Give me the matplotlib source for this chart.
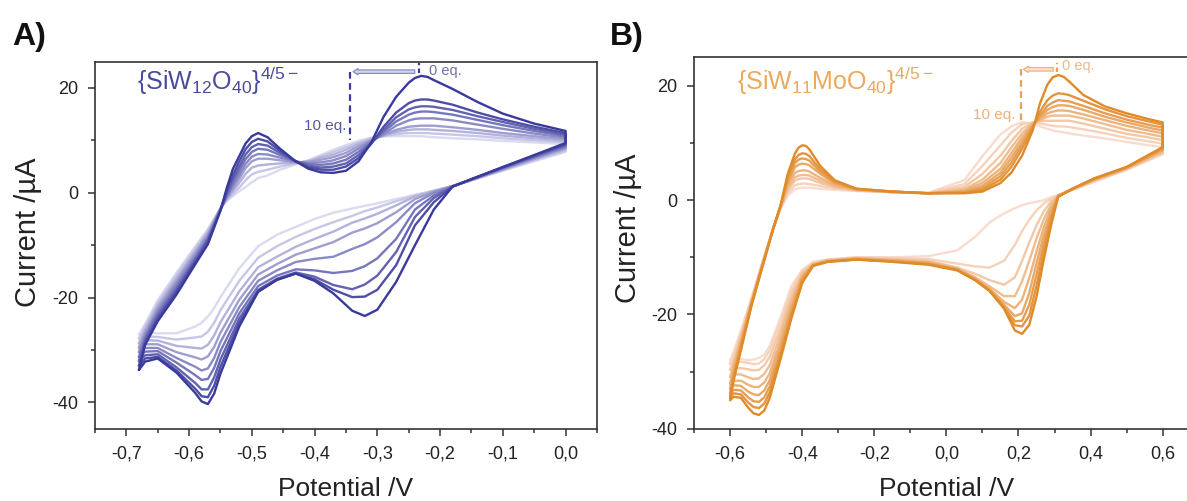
import matplotlib
matplotlib.use('Agg')
import matplotlib.pyplot as plt
import numpy as np
from matplotlib.ticker import MultipleLocator, FuncFormatter

plt.rcParams['font.family'] = ['Liberation Sans', 'DejaVu Sans']
plt.rcParams['mathtext.fontset'] = 'custom'
plt.rcParams['mathtext.rm'] = 'Liberation Sans'
plt.rcParams['mathtext.it'] = 'Liberation Sans:italic'
plt.rcParams['mathtext.bf'] = 'Liberation Sans:bold'
plt.rcParams['mathtext.default'] = 'regular'

# ---- panel A : {SiW12O40}, 0 eq. (row 0) ... 10 eq. (row 8) ----
pot_a_anodic = [-0.68, -0.67, -0.65, -0.62, -0.59, -0.57, -0.55, -0.54, -0.53, -0.52, -0.51,
                -0.50, -0.49, -0.475, -0.455, -0.43, -0.41, -0.39, -0.37, -0.35, -0.33, -0.31,
                -0.29, -0.27, -0.25, -0.24, -0.23, -0.22, -0.21, -0.18, -0.14, -0.10, -0.05, 0.00]
cur_a_anodic = [
    [-33.8, -29.0, -24.5, -19.4, -13.6, -9.8, -3.4, 0.9, 4.6, 7.0, 9.4, 10.8, 11.4, 10.6, 8.4, 6.0,
     4.6, 3.9, 3.8, 4.2, 6.0, 9.5, 14.5, 18.3, 21.0, 21.9, 22.3, 22.1, 21.5, 19.8, 17.3, 15.1, 13.2, 11.8],
    [-33.0, -28.6, -24.0, -18.9, -13.2, -9.4, -3.3, 0.3, 3.4, 6.0, 8.3, 9.7, 10.3, 9.8, 8.0, 6.0,
     4.9, 4.4, 4.4, 5.0, 6.6, 9.3, 12.6, 15.3, 17.1, 17.6, 17.8, 17.8, 17.6, 16.8, 15.3, 14.0, 12.6, 11.4],
    [-32.1, -28.1, -23.5, -18.4, -12.8, -9.0, -3.3, -0.2, 2.6, 5.0, 7.3, 8.7, 9.3, 9.0, 7.6, 6.0,
     5.2, 4.8, 5.0, 5.6, 7.2, 9.4, 12.0, 14.4, 15.9, 16.3, 16.5, 16.5, 16.4, 15.8, 14.6, 13.5, 12.2, 11.1],
    [-31.3, -27.6, -23.0, -17.9, -12.4, -8.7, -3.2, -0.5, 1.9, 4.2, 6.4, 7.8, 8.4, 8.2, 7.2, 6.0,
     5.5, 5.3, 5.6, 6.3, 7.8, 9.6, 11.6, 13.6, 14.9, 15.3, 15.5, 15.5, 15.4, 14.9, 13.9, 12.9, 11.8, 10.8],
    [-30.4, -27.1, -22.5, -17.3, -12.0, -8.3, -3.1, -0.8, 1.3, 3.4, 5.5, 6.9, 7.4, 7.3, 6.7, 5.9,
     5.7, 5.8, 6.2, 7.0, 8.4, 9.8, 11.2, 12.8, 13.8, 14.1, 14.2, 14.2, 14.2, 13.8, 13.0, 12.2, 11.3, 10.5],
    [-29.5, -26.6, -22.0, -16.8, -11.5, -7.9, -3.1, -1.0, 0.8, 2.7, 4.7, 6.0, 6.5, 6.5, 6.2, 5.8,
     5.9, 6.3, 6.8, 7.6, 8.9, 10.0, 11.0, 12.0, 12.6, 12.7, 12.8, 12.8, 12.8, 12.5, 12.0, 11.4, 10.8, 10.2],
    [-28.7, -26.1, -21.5, -16.3, -11.1, -7.6, -3.0, -1.2, 0.3, 1.9, 3.6, 4.8, 5.2, 5.4, 5.6, 5.7,
     6.0, 6.7, 7.3, 8.2, 9.3, 10.2, 10.9, 11.6, 12.0, 12.1, 12.1, 12.1, 12.0, 11.8, 11.4, 10.9, 10.4, 9.9],
    [-27.8, -25.5, -21.0, -15.7, -10.6, -7.2, -2.9, -1.4, -0.2, 1.0, 2.4, 3.5, 4.0, 4.4, 5.0, 5.6,
     6.1, 7.0, 7.8, 8.7, 9.6, 10.4, 10.8, 11.2, 11.4, 11.4, 11.4, 11.4, 11.3, 11.1, 10.8, 10.4, 10.0, 9.6],
    [-27.0, -25.0, -20.5, -15.2, -10.2, -6.9, -2.9, -1.6, -0.6, 0.3, 1.1, 2.0, 2.8, 3.3, 4.4, 5.4,
     6.2, 7.2, 8.2, 9.1, 9.9, 10.5, 10.8, 10.8, 10.8, 10.8, 10.8, 10.7, 10.6, 10.4, 10.2, 9.9, 9.6, 9.3],
]
pot_a_cathodic = [0.00, -0.05, -0.10, -0.15, -0.18, -0.21, -0.24, -0.27, -0.30, -0.32, -0.34, -0.37,
                  -0.40, -0.43, -0.46, -0.49, -0.52, -0.55, -0.56, -0.57, -0.58, -0.59, -0.62,
                  -0.65, -0.67, -0.68]
cur_a_cathodic = [
    [9.5, 7.2, 4.9, 2.6, 1.2, -3.2, -10.0, -17.0, -22.3, -23.5, -22.5, -19.2, -16.8, -15.4, -16.6,
     -18.9, -25.5, -34.5, -38.3, -40.3, -39.8, -38.2, -34.3, -31.6, -32.2, -33.8],
    [9.3, 7.1, 4.9, 2.6, 1.2, -1.8, -6.2, -13.8, -18.5, -19.8, -19.9, -18.5, -16.5, -15.4, -16.6,
     -18.8, -24.8, -33.2, -36.8, -39.0, -38.8, -37.4, -33.9, -31.3, -31.6, -33.0],
    [9.1, 7.0, 4.8, 2.6, 1.2, -1.0, -4.6, -11.3, -15.8, -17.5, -18.4, -17.6, -16.0, -15.2, -16.4,
     -18.5, -24.0, -31.8, -35.2, -37.5, -37.5, -36.3, -33.3, -30.8, -31.0, -32.1],
    [8.9, 6.8, 4.7, 2.5, 1.2, -0.5, -3.2, -8.8, -12.5, -14.0, -14.9, -15.3, -14.8, -14.6, -15.8,
     -17.8, -23.0, -30.2, -33.4, -35.5, -35.7, -34.8, -32.4, -30.2, -30.3, -31.3],
    [8.7, 6.7, 4.6, 2.5, 1.2, 0.0, -2.0, -5.6, -8.5, -9.8, -10.7, -12.2, -12.6, -13.2, -14.8,
     -16.8, -21.8, -28.5, -31.5, -33.5, -33.9, -33.2, -31.5, -29.6, -29.6, -30.4],
    [8.5, 6.5, 4.5, 2.5, 1.3, 0.2, -1.2, -3.7, -5.8, -6.8, -7.6, -9.4, -10.6, -11.8, -13.6,
     -15.6, -20.4, -26.7, -29.4, -31.2, -31.8, -31.4, -30.4, -28.9, -28.9, -29.5],
    [8.3, 6.4, 4.4, 2.4, 1.3, 0.3, -0.7, -2.4, -4.0, -4.9, -5.7, -7.4, -8.8, -10.3, -12.2,
     -14.2, -18.8, -24.7, -27.2, -29.0, -29.7, -29.6, -29.2, -28.2, -28.1, -28.7],
    [8.0, 6.2, 4.3, 2.4, 1.3, 0.4, -0.5, -1.6, -2.8, -3.5, -4.4, -5.6, -6.9, -8.4, -10.2,
     -12.4, -16.8, -22.4, -24.8, -26.5, -27.4, -27.6, -28.0, -27.5, -27.4, -27.8],
    [7.8, 6.0, 4.2, 2.4, 1.3, 0.4, -0.4, -1.2, -2.0, -2.5, -3.0, -3.8, -5.0, -6.5, -8.0,
     -10.2, -14.4, -19.9, -22.0, -23.6, -24.8, -25.5, -26.8, -26.8, -26.7, -27.0],
]

# ---- panel B : {SiW11MoO40} ----
pot_b_anodic = [-0.60, -0.59, -0.57, -0.54, -0.51, -0.48, -0.46, -0.44, -0.42, -0.41, -0.40, -0.39,
                -0.38, -0.35, -0.31, -0.25, -0.15, -0.05, 0.05, 0.10, 0.15, 0.18, 0.21, 0.24, 0.26,
                0.28, 0.295, 0.31, 0.325, 0.34, 0.38, 0.44, 0.50, 0.56, 0.60]
cur_b_anodic = [
    [-35.0, -31.5, -26.3, -18.3, -11.6, -4.9, -0.9, 4.6, 8.2, 9.2, 9.6, 9.5, 8.9, 6.0, 3.5, 2.0, 1.5,
     1.2, 1.2, 1.5, 3.0, 4.8, 7.8, 12.3, 17.0, 20.2, 21.5, 21.9, 21.6, 20.8, 18.4, 16.4, 15.2, 14.2, 13.6],
    [-34.4, -31.0, -25.9, -18.2, -11.5, -4.9, -1.0, 4.0, 7.2, 7.9, 8.2, 8.1, 7.7, 5.4, 3.3, 2.0, 1.5,
     1.2, 1.3, 1.8, 3.6, 5.8, 9.0, 12.8, 15.5, 17.5, 18.3, 18.7, 18.6, 18.4, 17.4, 15.9, 14.7, 13.8, 13.2],
    [-33.8, -30.5, -25.5, -18.0, -11.4, -4.9, -1.0, 3.6, 6.5, 7.1, 7.3, 7.2, 6.9, 5.0, 3.1, 1.9, 1.5,
     1.2, 1.4, 2.1, 4.2, 6.6, 9.7, 13.0, 14.8, 16.5, 17.1, 17.5, 17.4, 17.3, 16.5, 15.2, 14.1, 13.2, 12.7],
    [-33.0, -30.0, -25.0, -17.9, -11.3, -4.9, -1.1, 3.1, 5.8, 6.2, 6.4, 6.3, 6.1, 4.6, 2.9, 1.9, 1.5,
     1.2, 1.5, 2.5, 4.8, 7.4, 10.3, 13.2, 14.5, 15.8, 16.3, 16.6, 16.6, 16.5, 15.8, 14.6, 13.6, 12.7, 12.2],
    [-32.1, -29.5, -24.6, -17.7, -11.2, -4.9, -1.1, 2.6, 4.8, 5.1, 5.2, 5.2, 5.0, 3.9, 2.6, 1.8, 1.4,
     1.2, 1.7, 3.0, 5.5, 8.2, 11.0, 13.4, 14.2, 15.2, 15.5, 15.7, 15.7, 15.6, 15.0, 14.0, 13.0, 12.2, 11.7],
    [-30.9, -28.8, -24.2, -17.6, -11.1, -4.9, -1.2, 2.1, 4.0, 4.3, 4.4, 4.4, 4.3, 3.4, 2.4, 1.8, 1.4,
     1.2, 1.9, 3.6, 6.5, 9.2, 11.7, 13.5, 14.0, 14.6, 14.8, 14.8, 14.8, 14.8, 14.3, 13.3, 12.3, 11.6, 11.1],
    [-29.7, -28.0, -23.8, -17.4, -11.0, -4.9, -1.3, 1.7, 3.4, 3.7, 3.8, 3.8, 3.7, 3.0, 2.2, 1.7, 1.4,
     1.2, 2.3, 4.6, 7.8, 10.3, 12.5, 13.6, 13.8, 13.9, 13.9, 13.9, 13.9, 13.9, 13.4, 12.5, 11.6, 11.0, 10.5],
    [-28.6, -27.2, -23.3, -17.2, -10.9, -4.9, -1.4, 1.2, 2.6, 2.8, 2.9, 2.9, 2.8, 2.5, 2.0, 1.7, 1.4,
     1.3, 2.8, 6.0, 9.6, 11.8, 13.3, 13.6, 13.4, 13.2, 13.0, 12.9, 12.9, 12.8, 12.4, 11.7, 10.9, 10.3, 9.9],
    [-28.0, -26.5, -22.8, -17.0, -10.8, -4.9, -1.5, 0.8, 1.9, 2.1, 2.2, 2.2, 2.2, 2.0, 1.8, 1.6, 1.4,
     1.3, 3.5, 7.7, 11.5, 12.9, 13.7, 13.3, 12.9, 12.5, 12.2, 12.0, 11.9, 11.7, 11.3, 10.8, 10.2, 9.6, 9.3],
]
pot_b_cathodic = [0.60, 0.50, 0.41, 0.35, 0.31, 0.29, 0.27, 0.25, 0.23, 0.21, 0.19, 0.16, 0.12,
                  0.08, 0.03, -0.05, -0.15, -0.25, -0.33, -0.37, -0.40, -0.43, -0.46, -0.49,
                  -0.505, -0.52, -0.535, -0.55, -0.57, -0.59, -0.60]
cur_b_cathodic = [
    [9.3, 5.8, 3.8, 2.0, 0.6, -4.5, -10.4, -16.9, -21.8, -23.4, -22.8, -19.0, -15.9, -14.0, -12.3,
     -11.3, -10.8, -10.4, -10.8, -11.5, -14.5, -20.7, -27.8, -34.6, -36.8, -37.6, -37.3, -36.3,
     -34.6, -34.4, -35.0],
    [9.1, 5.8, 3.8, 2.0, 0.6, -3.6, -9.0, -15.0, -20.2, -22.1, -21.9, -18.8, -15.9, -14.0, -12.2,
     -11.2, -10.7, -10.4, -10.8, -11.5, -14.2, -20.2, -27.1, -33.6, -35.6, -36.4, -36.2, -35.4,
     -34.0, -33.8, -34.4],
    [9.0, 5.7, 3.7, 2.0, 0.7, -2.8, -7.6, -13.0, -18.3, -21.1, -21.2, -18.7, -15.8, -13.9, -12.2,
     -11.1, -10.7, -10.3, -10.7, -11.4, -13.9, -19.6, -26.4, -32.6, -34.5, -35.3, -35.2, -34.5,
     -33.3, -33.2, -33.8],
    [8.8, 5.7, 3.6, 2.0, 0.7, -2.1, -6.2, -11.0, -16.2, -19.8, -20.3, -18.3, -15.7, -13.8, -12.1,
     -11.0, -10.6, -10.3, -10.7, -11.4, -13.6, -19.0, -25.6, -31.5, -33.3, -34.1, -34.0, -33.5,
     -32.5, -32.4, -33.0],
    [8.7, 5.6, 3.6, 1.9, 0.8, -1.4, -4.8, -9.0, -13.6, -17.4, -18.9, -17.8, -15.5, -13.7, -12.0,
     -10.9, -10.5, -10.2, -10.6, -11.3, -13.3, -18.3, -24.6, -30.3, -31.9, -32.7, -32.7, -32.3,
     -31.6, -31.6, -32.1],
    [8.5, 5.5, 3.5, 1.9, 0.8, -0.8, -3.4, -6.7, -10.6, -14.2, -16.8, -16.8, -15.1, -13.5, -11.9,
     -10.8, -10.4, -10.2, -10.6, -11.2, -13.0, -17.5, -23.5, -28.9, -30.4, -31.2, -31.3, -31.0,
     -30.5, -30.5, -30.9],
    [8.3, 5.5, 3.4, 1.9, 0.8, -0.2, -2.0, -4.4, -7.4, -10.6, -13.5, -14.8, -14.0, -12.9, -11.8,
     -10.6, -10.3, -10.1, -10.5, -11.1, -12.7, -16.6, -22.4, -27.4, -28.9, -29.7, -29.8, -29.6,
     -29.4, -29.4, -29.7],
    [8.2, 5.4, 3.3, 1.8, 0.9, 0.3, -0.6, -1.8, -3.4, -5.4, -7.8, -10.6, -11.8, -11.6, -11.1,
     -10.3, -10.1, -10.0, -10.4, -11.0, -12.4, -15.8, -21.2, -26.2, -27.8, -28.6, -28.7, -28.5,
     -28.3, -28.4, -28.6],
    [8.0, 5.3, 3.2, 1.8, 0.9, 0.5, 0.0, -0.3, -0.5, -0.9, -1.4, -2.3, -3.9, -6.4, -8.8,
     -9.8, -10.0, -10.0, -10.4, -10.8, -12.2, -15.0, -20.5, -25.5, -27.0, -27.6, -27.9, -28.0,
     -27.8, -27.7, -28.0],
]

text_col = '#222222'


def shade(dark, light, n):
    dark = np.array(dark) / 255.0
    light = np.array(light) / 255.0
    return [tuple(dark + (light - dark) * k / (n - 1)) for k in range(n)]


def comma(v, pos):
    return f'{v:.1f}'.replace('.', ',')


def style(ax):
    for s in ax.spines.values():
        s.set_color('#333333')
        s.set_linewidth(1.2)
    ax.tick_params(which='both', direction='out', top=False, right=False,
                   colors='#333333', labelcolor=text_col, labelsize=13, width=1.1)
    ax.tick_params(which='major', length=5, pad=7)
    ax.tick_params(which='minor', length=3)
    ax.xaxis.set_major_formatter(FuncFormatter(comma))
    ax.yaxis.set_major_formatter(FuncFormatter(lambda v, p: f'{v:.0f}'))
    ax.yaxis.set_major_locator(MultipleLocator(20))
    ax.yaxis.set_minor_locator(MultipleLocator(10))
    ax.set_xlabel('Potential /V', fontsize=19, color=text_col)
    ax.set_ylabel('Current /µA', fontsize=21, color=text_col)


def draw_cv(ax, pa, ca, pc, cc, cols):
    for k in range(len(ca) - 1, -1, -1):
        ax.plot(pa + pc, ca[k] + cc[k], color=cols[k], lw=1.7,
                solid_joinstyle='round', solid_capstyle='round')


fig = plt.figure(figsize=(11.87, 5.01), dpi=100)
ax1 = fig.add_axes([0.0800, 0.1443, 0.4229, 0.7325])
ax2 = fig.add_axes([0.5847, 0.1443, 0.4252, 0.7413])

blues = shade((58, 58, 156), (218, 218, 240), 9)
oranges = shade((224, 138, 40), (249, 220, 208), 9)

draw_cv(ax1, pot_a_anodic, cur_a_anodic, pot_a_cathodic, cur_a_cathodic, blues)
draw_cv(ax2, pot_b_anodic, cur_b_anodic, pot_b_cathodic, cur_b_cathodic, oranges)

# panel A axes
ax1.set_xlim(-0.75, 0.05)
ax1.set_ylim(-45, 25)
ax1.xaxis.set_major_locator(MultipleLocator(0.1))
ax1.xaxis.set_minor_locator(MultipleLocator(0.05))
style(ax1)
ax1.yaxis.set_label_coords(-0.106, 0.535)
ax1.xaxis.set_label_coords(0.5, -0.131)

# panel B axes
ax2.set_xlim(-0.7, 0.7)
ax2.set_ylim(-40, 25)
ax2.xaxis.set_major_locator(MultipleLocator(0.2))
ax2.xaxis.set_minor_locator(MultipleLocator(0.1))
style(ax2)
ax2.yaxis.set_label_coords(-0.103, 0.54)
ax2.xaxis.set_label_coords(0.5, -0.129)

# compound labels
ax1.text(0.084, 0.923, '{SiW$_{12}$O$_{40}$}$^{4/5-}$', transform=ax1.transAxes,
         fontsize=18, color='#4a4aa0', va='baseline', ha='left')
ax2.text(0.085, 0.912, '{SiW$_{11}$MoO$_{40}$}$^{4/5-}$', transform=ax2.transAxes,
         fontsize=18, color='#eba95c', va='baseline', ha='left')

# titration markers, panel A
ax1.annotate('', xy=(-0.343, 23.1), xytext=(-0.236, 23.1),
             arrowprops=dict(arrowstyle='simple,head_length=0.35,head_width=0.45,tail_width=0.25',
                             fc='#d4d4ee', ec='#8a8ac4', lw=0.9))
ax1.plot([-0.343, -0.343], [23.1, 10.0], color='#3a3a9c', lw=1.6, ls=(0, (3, 2)))
ax1.plot([-0.233, -0.233], [22.8, 24.7], color='#3a3a9c', lw=1.6, ls=(0, (2, 1.5)))
ax1.text(-0.218, 23.3, '0 eq.', fontsize=10.5, color='#7070a8', va='center', ha='left')
ax1.text(-0.350, 12.8, '10 eq.', fontsize=11, color='#5a5a9c', va='center', ha='right')

# titration markers, panel B
ax2.annotate('', xy=(0.206, 22.9), xytext=(0.304, 22.9),
             arrowprops=dict(arrowstyle='simple,head_length=0.35,head_width=0.45,tail_width=0.25',
                             fc='#fbe6d4', ec='#eab27c', lw=0.9))
ax2.plot([0.206, 0.206], [22.9, 13.1], color='#e6a25a', lw=1.6, ls=(0, (3, 2)))
ax2.plot([0.308, 0.308], [22.4, 24.0], color='#e6a25a', lw=1.6, ls=(0, (2, 1.5)))
ax2.text(0.322, 23.4, '0 eq.', fontsize=10.5, color='#eeb888', va='center', ha='left')
ax2.text(0.190, 14.9, '10 eq.', fontsize=11, color='#ebb07a', va='center', ha='right')

fig.text(12 / 1187, 1 - 22 / 501, 'A)', fontsize=23, fontweight='bold', color='#111111', va='top')
fig.text(610 / 1187, 1 - 22 / 501, 'B)', fontsize=23, fontweight='bold', color='#111111', va='top')

fig.savefig('out.png', dpi=100)
